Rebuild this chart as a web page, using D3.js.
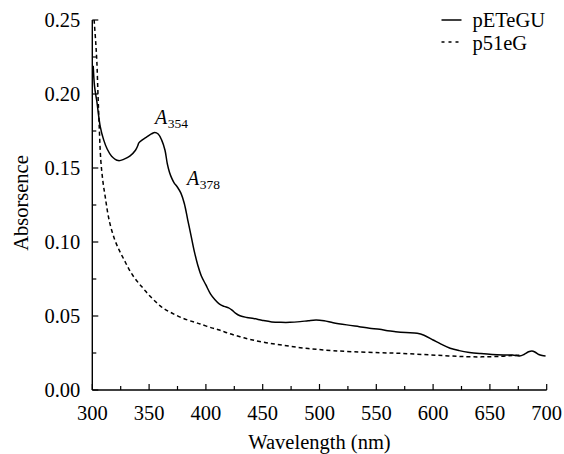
<!DOCTYPE html>
<html>
<head>
<meta charset="utf-8">
<script src="https://cdn.jsdelivr.net/npm/d3@7"></script>
<style>
  html, body { margin: 0; padding: 0; background: #fff; }
  svg { display: block; }
</style>
</head>
<body>
<svg id="chart" width="564" height="454"></svg>
<script>
// ---- Data ----
const seriesNames = ["pETeGU", "p51eG"];
const xTicks = [300, 350, 400, 450, 500, 550, 600, 650, 700];
const yTicks = [0.00, 0.05, 0.10, 0.15, 0.20, 0.25];
const yTickLabels = ["0.00", "0.05", "0.10", "0.15", "0.20", "0.25"];

const pETeGU_wl = [300.8, 302, 304, 307, 310, 313, 317, 323, 328, 333, 338, 340, 341, 344, 348, 352, 355, 358, 361, 364, 366, 368, 370, 372, 375, 378, 381, 384, 387, 390, 393, 396, 400, 404, 408, 412, 416, 420, 423, 426, 430, 436, 442, 450, 458, 466, 474, 483, 490, 497, 504, 512, 524, 535, 544, 553, 560, 567, 576, 586, 592, 600, 607, 615, 623, 632, 642, 652, 662, 670, 676, 680, 684, 687, 690, 693, 696, 699];
const pETeGU_abs = [0.219, 0.205, 0.195, 0.178, 0.169, 0.163, 0.158, 0.155, 0.156, 0.158, 0.162, 0.165, 0.167, 0.169, 0.171, 0.173, 0.174, 0.173, 0.169, 0.162, 0.153, 0.147, 0.143, 0.140, 0.137, 0.133, 0.126, 0.115, 0.104, 0.093, 0.084, 0.077, 0.071, 0.065, 0.061, 0.058, 0.0565, 0.0555, 0.054, 0.052, 0.0502, 0.049, 0.0483, 0.047, 0.046, 0.0457, 0.0457, 0.0462, 0.0468, 0.0473, 0.0468, 0.0455, 0.0440, 0.0428, 0.0418, 0.0410, 0.0400, 0.0394, 0.0388, 0.0383, 0.0370, 0.0338, 0.0310, 0.0282, 0.0266, 0.0254, 0.0246, 0.0240, 0.0237, 0.0236, 0.0230, 0.0240, 0.0258, 0.0264, 0.0255, 0.0240, 0.0233, 0.0230];

const p51eG_wl = [301.6, 303, 304, 305, 306, 307.5, 309.5, 311.5, 313.5, 316, 320, 324, 328, 332, 336, 341, 345, 350, 356, 362, 370, 380, 390, 395, 405, 412, 420, 430, 440, 453, 468, 483, 497, 512, 530, 553, 570, 590, 610, 629, 645, 660, 670, 678];
const p51eG_abs = [0.250, 0.235, 0.222, 0.200, 0.180, 0.155, 0.140, 0.130, 0.120, 0.111, 0.101, 0.094, 0.088, 0.082, 0.077, 0.072, 0.0685, 0.064, 0.0595, 0.0555, 0.052, 0.0484, 0.0458, 0.0446, 0.042, 0.0405, 0.0383, 0.0360, 0.0340, 0.0320, 0.0302, 0.0286, 0.0275, 0.0266, 0.0258, 0.0252, 0.0248, 0.0240, 0.0232, 0.0225, 0.0224, 0.0228, 0.0233, 0.0236];

const peakLabels = [
  { main: "A", sub: "354", wl: 354 },
  { main: "A", sub: "378", wl: 378 }
];

// ---- Layout ----
const svg = d3.select("#chart");
const mLeft = 92.3, mRight = 546.7, mTop = 20, mBottom = 390;
const FONT = "Liberation Serif";

const x = d3.scaleLinear().domain([300, 700]).range([mLeft, mRight]);
const y = d3.scaleLinear().domain([0, 0.25]).range([mBottom, mTop]);

const FS = 20.5;
const txt = (sel) => sel.append("text").attr("font-family", FONT).attr("fill", "#000");

// axes lines
svg.append("line").attr("x1", mLeft).attr("x2", mLeft).attr("y1", mBottom).attr("y2", mTop)
  .attr("stroke", "#000").attr("stroke-width", 1.4);
svg.append("line").attr("x1", mLeft).attr("x2", mRight).attr("y1", mBottom).attr("y2", mBottom)
  .attr("stroke", "#000").attr("stroke-width", 1.4);

// x ticks (major + minor), pointing inward
const xMinor = d3.range(325, 700, 50);
xTicks.forEach(t => {
  svg.append("line").attr("x1", x(t)).attr("x2", x(t)).attr("y1", mBottom).attr("y2", mBottom - 6)
    .attr("stroke", "#000").attr("stroke-width", 1.2);
  txt(svg).attr("x", x(t)).attr("y", mBottom + 30).attr("text-anchor", "middle")
    .attr("font-size", FS).text(t);
});
xMinor.forEach(t => {
  svg.append("line").attr("x1", x(t)).attr("x2", x(t)).attr("y1", mBottom).attr("y2", mBottom - 4)
    .attr("stroke", "#000").attr("stroke-width", 1.2);
});

// y ticks
const yMinor = [0.025, 0.075, 0.125, 0.175, 0.225];
yTicks.forEach((t, i) => {
  svg.append("line").attr("x1", mLeft).attr("x2", mLeft + 6).attr("y1", y(t)).attr("y2", y(t))
    .attr("stroke", "#000").attr("stroke-width", 1.2);
  txt(svg).attr("x", mLeft - 12).attr("y", y(t)).attr("dy", "0.35em")
    .attr("text-anchor", "end").attr("font-size", FS).text(yTickLabels[i]);
});
yMinor.forEach(t => {
  svg.append("line").attr("x1", mLeft).attr("x2", mLeft + 4).attr("y1", y(t)).attr("y2", y(t))
    .attr("stroke", "#000").attr("stroke-width", 1.2);
});

// axis titles
txt(svg).attr("x", (mLeft + mRight) / 2).attr("y", 449).attr("text-anchor", "middle")
  .attr("font-size", FS).text("Wavelength (nm)");
txt(svg).attr("transform", "translate(28,203) rotate(-90)").attr("text-anchor", "middle")
  .attr("font-size", FS).text("Absorsence");

// lines
const line = d3.line().x(d => x(d[0])).y(d => y(d[1])).curve(d3.curveCatmullRom.alpha(0.5));
const solidData = pETeGU_wl.map((w, i) => [w, pETeGU_abs[i]]);
const dashData = p51eG_wl.map((w, i) => [w, p51eG_abs[i]]);

svg.append("path").datum(solidData).attr("d", line).attr("fill", "none")
  .attr("stroke", "#000").attr("stroke-width", 1.5);
svg.append("path").datum(dashData).attr("d", line).attr("fill", "none")
  .attr("stroke", "#000").attr("stroke-width", 1.5).attr("stroke-dasharray", "4,3");

// peak labels
const labelPos = [[155, 124], [187, 185]];
peakLabels.forEach((p, i) => {
  const t = txt(svg).attr("x", labelPos[i][0]).attr("y", labelPos[i][1]).attr("font-size", 20);
  t.append("tspan").attr("font-style", "italic").text(p.main);
  t.append("tspan").attr("font-size", 13.5).attr("dy", 4).attr("dx", 0.5).text(p.sub);
});

// legend
const legendRows = [{ ly: 20, ty: 27, dash: null }, { ly: 42, ty: 50, dash: "3,4" }];
seriesNames.forEach((name, i) => {
  const r = legendRows[i];
  svg.append("line").attr("x1", 441.5).attr("x2", 461.5).attr("y1", r.ly).attr("y2", r.ly)
    .attr("stroke", "#000").attr("stroke-width", 1.5)
    .attr("stroke-dasharray", r.dash);
  txt(svg).attr("x", 472.5).attr("y", r.ty).attr("font-size", FS).text(name);
});
</script>
</body>
</html>
